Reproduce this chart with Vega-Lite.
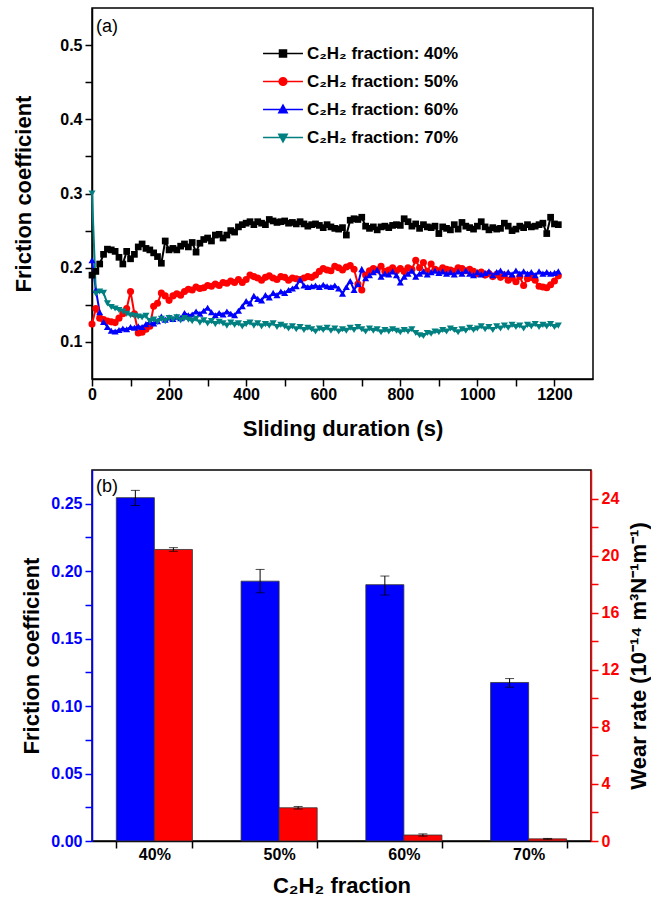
{
  "$schema": "https://vega.github.io/schema/vega-lite/v6.json",
  "padding": {"left": 12, "top": 7, "right": 0, "bottom": 0},
  "spacing": 29,
  "config": {
    "view": {"stroke": "black", "strokeWidth": 1.5},
    "font": "Liberation Sans",
    "axis": {
      "grid": false, "labelFont": "Liberation Sans", "titleFont": "Liberation Sans",
      "labelFontWeight": "bold", "titleFontWeight": "bold", "labelFontSize": 16, "titleFontSize": 22,
      "labelColor": "black", "titleColor": "black", "domainColor": "black", "tickColor": "black",
      "domainWidth": 1.5, "tickWidth": 1.5, "tickSize": 7, "labelFlush": false, "zindex": 1
    },
    "legend": {"padding": 0}
  },
  "vconcat": [
    {
      "width": 501, "height": 371,
      "title": {"text": "(a)", "frame": "group", "anchor": "start", "offset": -42, "dx": 4, "baseline": "alphabetic", "fontSize": 18, "fontWeight": "normal", "font": "Liberation Sans", "color": "black"},
      "data": {"values": [
        {"t":0,"c40":0.190,"c50":0.124,"c60":0.210,"c70":0.300},
        {"t":10,"c40":0.195,"c50":0.145,"c60":0.170,"c70":0.165},
        {"t":20,"c40":0.205,"c50":0.132,"c60":0.140,"c70":0.168},
        {"t":30,"c40":0.218,"c50":0.130,"c60":0.127,"c70":0.166},
        {"t":40,"c40":0.225,"c50":0.128,"c60":0.120,"c70":0.152},
        {"t":50,"c40":0.224,"c50":0.127,"c60":0.115,"c70":0.147},
        {"t":60,"c40":0.222,"c50":0.126,"c60":0.114,"c70":0.145},
        {"t":70,"c40":0.214,"c50":0.132,"c60":0.116,"c70":0.143},
        {"t":80,"c40":0.205,"c50":0.138,"c60":0.118,"c70":0.141},
        {"t":90,"c40":0.222,"c50":0.145,"c60":0.117,"c70":0.138},
        {"t":100,"c40":0.212,"c50":0.168,"c60":0.120,"c70":0.136},
        {"t":110,"c40":0.218,"c50":0.138,"c60":0.119,"c70":0.135},
        {"t":120,"c40":0.228,"c50":0.112,"c60":0.121,"c70":0.134},
        {"t":130,"c40":0.232,"c50":0.113,"c60":0.120,"c70":0.133},
        {"t":140,"c40":0.226,"c50":0.117,"c60":0.124,"c70":0.135},
        {"t":150,"c40":0.224,"c50":0.121,"c60":0.127,"c70":0.128},
        {"t":160,"c40":0.220,"c50":0.148,"c60":0.125,"c70":0.130},
        {"t":170,"c40":0.215,"c50":0.152,"c60":0.128,"c70":0.127},
        {"t":180,"c40":0.206,"c50":0.166,"c60":0.134,"c70":0.131},
        {"t":190,"c40":0.236,"c50":0.162,"c60":0.130,"c70":0.128},
        {"t":200,"c40":0.224,"c50":0.156,"c60":0.133,"c70":0.132},
        {"t":210,"c40":0.226,"c50":0.162,"c60":0.131,"c70":0.130},
        {"t":220,"c40":0.224,"c50":0.165,"c60":0.134,"c70":0.133},
        {"t":230,"c40":0.229,"c50":0.163,"c60":0.132,"c70":0.129},
        {"t":240,"c40":0.232,"c50":0.168,"c60":0.139,"c70":0.132},
        {"t":250,"c40":0.228,"c50":0.171,"c60":0.136,"c70":0.130},
        {"t":260,"c40":0.234,"c50":0.170,"c60":0.137,"c70":0.128},
        {"t":270,"c40":0.221,"c50":0.174,"c60":0.141,"c70":0.131},
        {"t":280,"c40":0.233,"c50":0.172,"c60":0.138,"c70":0.126},
        {"t":290,"c40":0.238,"c50":0.173,"c60":0.142,"c70":0.129},
        {"t":300,"c40":0.240,"c50":0.176,"c60":0.146,"c70":0.125},
        {"t":310,"c40":0.236,"c50":0.175,"c60":0.140,"c70":0.128},
        {"t":320,"c40":0.244,"c50":0.178,"c60":0.136,"c70":0.124},
        {"t":330,"c40":0.245,"c50":0.176,"c60":0.139,"c70":0.127},
        {"t":340,"c40":0.240,"c50":0.180,"c60":0.137,"c70":0.125},
        {"t":350,"c40":0.244,"c50":0.179,"c60":0.141,"c70":0.122},
        {"t":360,"c40":0.250,"c50":0.182,"c60":0.138,"c70":0.126},
        {"t":370,"c40":0.248,"c50":0.180,"c60":0.136,"c70":0.123},
        {"t":380,"c40":0.255,"c50":0.184,"c60":0.142,"c70":0.125},
        {"t":390,"c40":0.258,"c50":0.180,"c60":0.148,"c70":0.121},
        {"t":400,"c40":0.260,"c50":0.184,"c60":0.155,"c70":0.124},
        {"t":410,"c40":0.262,"c50":0.190,"c60":0.152,"c70":0.126},
        {"t":420,"c40":0.258,"c50":0.188,"c60":0.162,"c70":0.122},
        {"t":430,"c40":0.262,"c50":0.186,"c60":0.158,"c70":0.125},
        {"t":440,"c40":0.260,"c50":0.183,"c60":0.156,"c70":0.121},
        {"t":450,"c40":0.258,"c50":0.187,"c60":0.163,"c70":0.124},
        {"t":460,"c40":0.265,"c50":0.189,"c60":0.160,"c70":0.122},
        {"t":470,"c40":0.263,"c50":0.186,"c60":0.166,"c70":0.125},
        {"t":480,"c40":0.261,"c50":0.184,"c60":0.163,"c70":0.120},
        {"t":490,"c40":0.262,"c50":0.188,"c60":0.168,"c70":0.123},
        {"t":500,"c40":0.263,"c50":0.187,"c60":0.166,"c70":0.121},
        {"t":510,"c40":0.260,"c50":0.183,"c60":0.170,"c70":0.118},
        {"t":520,"c40":0.261,"c50":0.186,"c60":0.172,"c70":0.121},
        {"t":530,"c40":0.259,"c50":0.185,"c60":0.175,"c70":0.117},
        {"t":540,"c40":0.262,"c50":0.184,"c60":0.184,"c70":0.120},
        {"t":550,"c40":0.259,"c50":0.186,"c60":0.176,"c70":0.116},
        {"t":560,"c40":0.256,"c50":0.188,"c60":0.174,"c70":0.119},
        {"t":570,"c40":0.258,"c50":0.187,"c60":0.175,"c70":0.117},
        {"t":580,"c40":0.259,"c50":0.190,"c60":0.176,"c70":0.114},
        {"t":590,"c40":0.257,"c50":0.195,"c60":0.174,"c70":0.118},
        {"t":600,"c40":0.254,"c50":0.199,"c60":0.177,"c70":0.116},
        {"t":610,"c40":0.258,"c50":0.197,"c60":0.175,"c70":0.119},
        {"t":620,"c40":0.255,"c50":0.196,"c60":0.174,"c70":0.115},
        {"t":630,"c40":0.253,"c50":0.202,"c60":0.176,"c70":0.118},
        {"t":640,"c40":0.252,"c50":0.200,"c60":0.172,"c70":0.114},
        {"t":650,"c40":0.254,"c50":0.197,"c60":0.165,"c70":0.117},
        {"t":660,"c40":0.244,"c50":0.201,"c60":0.174,"c70":0.115},
        {"t":670,"c40":0.264,"c50":0.203,"c60":0.182,"c70":0.119},
        {"t":680,"c40":0.266,"c50":0.198,"c60":0.170,"c70":0.116},
        {"t":690,"c40":0.265,"c50":0.178,"c60":0.178,"c70":0.120},
        {"t":700,"c40":0.268,"c50":0.170,"c60":0.198,"c70":0.117},
        {"t":710,"c40":0.256,"c50":0.190,"c60":0.186,"c70":0.114},
        {"t":720,"c40":0.253,"c50":0.196,"c60":0.190,"c70":0.118},
        {"t":730,"c40":0.255,"c50":0.199,"c60":0.194,"c70":0.115},
        {"t":740,"c40":0.251,"c50":0.197,"c60":0.197,"c70":0.117},
        {"t":750,"c40":0.255,"c50":0.202,"c60":0.188,"c70":0.113},
        {"t":760,"c40":0.256,"c50":0.195,"c60":0.192,"c70":0.116},
        {"t":770,"c40":0.254,"c50":0.197,"c60":0.191,"c70":0.114},
        {"t":780,"c40":0.257,"c50":0.200,"c60":0.195,"c70":0.117},
        {"t":790,"c40":0.258,"c50":0.196,"c60":0.190,"c70":0.115},
        {"t":800,"c40":0.257,"c50":0.199,"c60":0.180,"c70":0.113},
        {"t":810,"c40":0.266,"c50":0.195,"c60":0.188,"c70":0.116},
        {"t":820,"c40":0.262,"c50":0.200,"c60":0.192,"c70":0.114},
        {"t":830,"c40":0.256,"c50":0.198,"c60":0.196,"c70":0.117},
        {"t":840,"c40":0.259,"c50":0.210,"c60":0.188,"c70":0.112},
        {"t":850,"c40":0.253,"c50":0.200,"c60":0.192,"c70":0.109},
        {"t":860,"c40":0.258,"c50":0.207,"c60":0.195,"c70":0.108},
        {"t":870,"c40":0.255,"c50":0.195,"c60":0.191,"c70":0.112},
        {"t":880,"c40":0.254,"c50":0.205,"c60":0.194,"c70":0.111},
        {"t":890,"c40":0.256,"c50":0.198,"c60":0.196,"c70":0.114},
        {"t":900,"c40":0.246,"c50":0.196,"c60":0.193,"c70":0.113},
        {"t":910,"c40":0.255,"c50":0.200,"c60":0.195,"c70":0.116},
        {"t":920,"c40":0.253,"c50":0.198,"c60":0.192,"c70":0.114},
        {"t":930,"c40":0.251,"c50":0.197,"c60":0.194,"c70":0.118},
        {"t":940,"c40":0.258,"c50":0.195,"c60":0.191,"c70":0.116},
        {"t":950,"c40":0.252,"c50":0.200,"c60":0.195,"c70":0.113},
        {"t":960,"c40":0.261,"c50":0.199,"c60":0.192,"c70":0.117},
        {"t":970,"c40":0.256,"c50":0.196,"c60":0.196,"c70":0.115},
        {"t":980,"c40":0.254,"c50":0.198,"c60":0.192,"c70":0.119},
        {"t":990,"c40":0.252,"c50":0.195,"c60":0.190,"c70":0.116},
        {"t":1000,"c40":0.256,"c50":0.192,"c60":0.194,"c70":0.118},
        {"t":1010,"c40":0.262,"c50":0.194,"c60":0.191,"c70":0.121},
        {"t":1020,"c40":0.255,"c50":0.190,"c60":0.193,"c70":0.117},
        {"t":1030,"c40":0.251,"c50":0.192,"c60":0.195,"c70":0.120},
        {"t":1040,"c40":0.254,"c50":0.188,"c60":0.190,"c70":0.116},
        {"t":1050,"c40":0.252,"c50":0.191,"c60":0.194,"c70":0.121},
        {"t":1060,"c40":0.253,"c50":0.187,"c60":0.196,"c70":0.118},
        {"t":1070,"c40":0.260,"c50":0.190,"c60":0.192,"c70":0.122},
        {"t":1080,"c40":0.256,"c50":0.183,"c60":0.194,"c70":0.119},
        {"t":1090,"c40":0.250,"c50":0.186,"c60":0.191,"c70":0.123},
        {"t":1100,"c40":0.252,"c50":0.181,"c60":0.196,"c70":0.120},
        {"t":1110,"c40":0.256,"c50":0.188,"c60":0.192,"c70":0.122},
        {"t":1120,"c40":0.254,"c50":0.176,"c60":0.195,"c70":0.118},
        {"t":1130,"c40":0.258,"c50":0.185,"c60":0.192,"c70":0.123},
        {"t":1140,"c40":0.255,"c50":0.187,"c60":0.194,"c70":0.121},
        {"t":1150,"c40":0.256,"c50":0.183,"c60":0.190,"c70":0.124},
        {"t":1160,"c40":0.258,"c50":0.175,"c60":0.195,"c70":0.120},
        {"t":1170,"c40":0.260,"c50":0.174,"c60":0.192,"c70":0.123},
        {"t":1180,"c40":0.246,"c50":0.173,"c60":0.194,"c70":0.121},
        {"t":1190,"c40":0.268,"c50":0.177,"c60":0.192,"c70":0.124},
        {"t":1200,"c40":0.259,"c50":0.182,"c60":0.193,"c70":0.120},
        {"t":1210,"c40":0.258,"c50":0.189,"c60":0.195,"c70":0.122}
      ]},
      "transform": [{"fold": ["c40","c50","c60","c70"], "as": ["s","v"]}],
      "encoding": {
        "x": {"field": "t", "type": "quantitative",
          "scale": {"domain": [0,1300], "nice": false},
          "axis": {"title": "Sliding duration (s)", "values": [0,100,200,300,400,500,600,700,800,900,1000,1100,1200], "format": "d",
            "labelExpr": "datum.value % 200 === 0 ? datum.label : ''", "labelPadding": 0, "titlePadding": 16,
            "encode": {"ticks": {"y2": {"value": {"expr": "datum.value % 200 === 0 ? -7 : -4"}}}}}},
        "y": {"field": "v", "type": "quantitative",
          "scale": {"domain": [0.05,0.55], "nice": false, "zero": false},
          "axis": {"title": "Friction coefficient", "values": [0.1,0.15,0.2,0.25,0.3,0.35,0.4,0.45,0.5], "format": ".1f",
            "labelExpr": "round(datum.value*100) % 10 === 0 ? datum.label : ''", "labelPadding": 3, "titlePadding": 24,
            "encode": {"ticks": {"x2": {"value": {"expr": "round(datum.value*100) % 10 === 0 ? 7 : 4"}}}}}}
      },
      "layer": [
        {"mark": {"type": "line", "strokeWidth": 2},
         "encoding": {"color": {"field": "s", "type": "nominal",
          "scale": {"domain": ["c40","c50","c60","c70"], "range": ["#000000","#ff0000","#0000ff","#008080"]},
          "legend": {"title": null, "orient": "none", "legendX": 182.5, "legendY": 37,
            "labelFont": "Liberation Sans", "labelFontWeight": "bold", "labelFontSize": 17, "labelColor": "black",
            "labelExpr": "'C₂H₂ fraction: ' + substring(datum.label,1) + '%'",
            "symbolSize": 49, "labelOffset": 15.5, "rowPadding": 10, "symbolStrokeWidth": 1.5,
            "symbolType": {"expr": "datum.value === 'c40' ? 'M-5.7,0H5.7M-1,-1H1V1H-1Z' : datum.value === 'c50' ? 'M-5.7,0H5.7M1.1,0A1.1,1.1 0 1,1 -1.1,0A1.1,1.1 0 1,1 1.1,0Z' : datum.value === 'c60' ? 'M-5.7,0H5.7M0,-1.25L1.2,0.9L-1.2,0.9Z' : 'M-5.7,0H5.7M0,1.25L1.2,-0.9L-1.2,-0.9Z'"},
            "symbolFillColor": {"expr": "datum.value === 'c40' ? '#000000' : datum.value === 'c50' ? '#ff0000' : datum.value === 'c60' ? '#0000ff' : '#008080'"}
          }}}},
        {"transform": [{"filter": "datum.s === 'c40'"}], "mark": {"type": "point", "filled": true, "shape": "square", "size": 45, "opacity": 1, "color": "#000000"}},
        {"transform": [{"filter": "datum.s === 'c50'"}], "mark": {"type": "point", "filled": true, "shape": "circle", "size": 50, "opacity": 1, "color": "#ff0000"}},
        {"transform": [{"filter": "datum.s === 'c60'"}], "mark": {"type": "point", "filled": true, "shape": "triangle-up", "size": 50, "opacity": 1, "color": "#0000ff"}},
        {"transform": [{"filter": "datum.s === 'c70'"}], "mark": {"type": "point", "filled": true, "shape": "triangle-down", "size": 50, "opacity": 1, "color": "#008080"}}
      ]
    },
    {
      "width": 499, "height": 371,
      "title": {"text": "(b)", "frame": "group", "anchor": "start", "offset": -40, "dx": 4, "baseline": "alphabetic", "fontSize": 18, "fontWeight": "normal", "font": "Liberation Sans", "color": "black"},
      "data": {"values": [
        {"cat": "40%", "s": "mu", "v": 0.2545, "lo": 0.2487, "hi": 0.2599},
        {"cat": "50%", "s": "mu", "v": 0.1926, "lo": 0.184, "hi": 0.2013},
        {"cat": "60%", "s": "mu", "v": 0.190, "lo": 0.1823, "hi": 0.1964},
        {"cat": "70%", "s": "mu", "v": 0.1175, "lo": 0.114, "hi": 0.1204},
        {"cat": "40%", "s": "wr", "v": 20.43, "lo": 20.3, "hi": 20.56},
        {"cat": "50%", "s": "wr", "v": 2.33, "lo": 2.24, "hi": 2.42},
        {"cat": "60%", "s": "wr", "v": 0.42, "lo": 0.34, "hi": 0.5},
        {"cat": "70%", "s": "wr", "v": 0.15, "lo": 0.12, "hi": 0.18}
      ]},
      "encoding": {
        "x": {"field": "cat", "type": "nominal", "sort": null,
          "scale": {"paddingInner": 0.39, "paddingOuter": 0.195},
          "axis": {"title": "C₂H₂ fraction", "labelAngle": 0, "tickBand": "extent", "labelPadding": -2, "titlePadding": 13,
            "encode": {"ticks": {"y2": {"value": -5}}}}},
        "xOffset": {"field": "s", "type": "nominal", "scale": {"domain": ["mu","wr"], "paddingInner": 0, "paddingOuter": 0}}
      },
      "layer": [
        {
          "transform": [{"filter": "datum.s === 'mu'"}],
          "encoding": {
            "y": {"field": "v", "type": "quantitative",
              "scale": {"domain": [0,0.275], "nice": false},
              "axis": {"title": "Friction coefficient", "orient": "left", "values": [0,0.025,0.05,0.075,0.1,0.125,0.15,0.175,0.2,0.225,0.25],
                "format": ".2f", "labelExpr": "round(datum.value*1000) % 50 === 0 ? datum.label : ''",
                "labelColor": "#0000ff", "domainColor": "#0000ff", "tickColor": "#0000ff", "labelPadding": 3, "titlePadding": 7,
                "encode": {"ticks": {"x2": {"value": {"expr": "round(datum.value*1000) % 50 === 0 ? 7 : 4"}}}}}}
          },
          "layer": [
            {"mark": {"type": "bar", "color": "#0000ff", "stroke": "#333333", "strokeWidth": 0.8}},
            {"mark": {"type": "rule", "color": "black", "strokeWidth": 1}, "encoding": {"y": {"field": "lo", "type": "quantitative"}, "y2": {"field": "hi"}}},
            {"mark": {"type": "tick", "color": "black", "size": 9, "thickness": 1}, "encoding": {"y": {"field": "lo", "type": "quantitative"}}},
            {"mark": {"type": "tick", "color": "black", "size": 9, "thickness": 1}, "encoding": {"y": {"field": "hi", "type": "quantitative"}}}
          ]
        },
        {
          "transform": [{"filter": "datum.s === 'wr'"}],
          "encoding": {
            "y": {"field": "v", "type": "quantitative",
              "scale": {"domain": [0,26], "nice": false},
              "axis": {"title": "Wear rate (10⁻¹⁴ m³N⁻¹m⁻¹)", "orient": "right", "titleAngle": 270, "titleBaseline": "top", "values": [0,2,4,6,8,10,12,14,16,18,20,22,24],
                "labelExpr": "datum.value % 4 === 0 ? datum.label : ''",
                "labelColor": "#ff0000", "domainColor": "#ff0000", "tickColor": "#ff0000", "labelPadding": 3, "titlePadding": 10,
                "encode": {"ticks": {"x2": {"value": {"expr": "datum.value % 4 === 0 ? -7 : -4"}}}}}}
          },
          "layer": [
            {"mark": {"type": "bar", "color": "#ff0000", "stroke": "#333333", "strokeWidth": 0.8}},
            {"mark": {"type": "rule", "color": "black", "strokeWidth": 1}, "encoding": {"y": {"field": "lo", "type": "quantitative"}, "y2": {"field": "hi"}}},
            {"mark": {"type": "tick", "color": "black", "size": 9, "thickness": 1}, "encoding": {"y": {"field": "lo", "type": "quantitative"}}},
            {"mark": {"type": "tick", "color": "black", "size": 9, "thickness": 1}, "encoding": {"y": {"field": "hi", "type": "quantitative"}}}
          ]
        }
      ],
      "resolve": {"scale": {"y": "independent"}, "axis": {"y": "independent"}}
    }
  ]
}
